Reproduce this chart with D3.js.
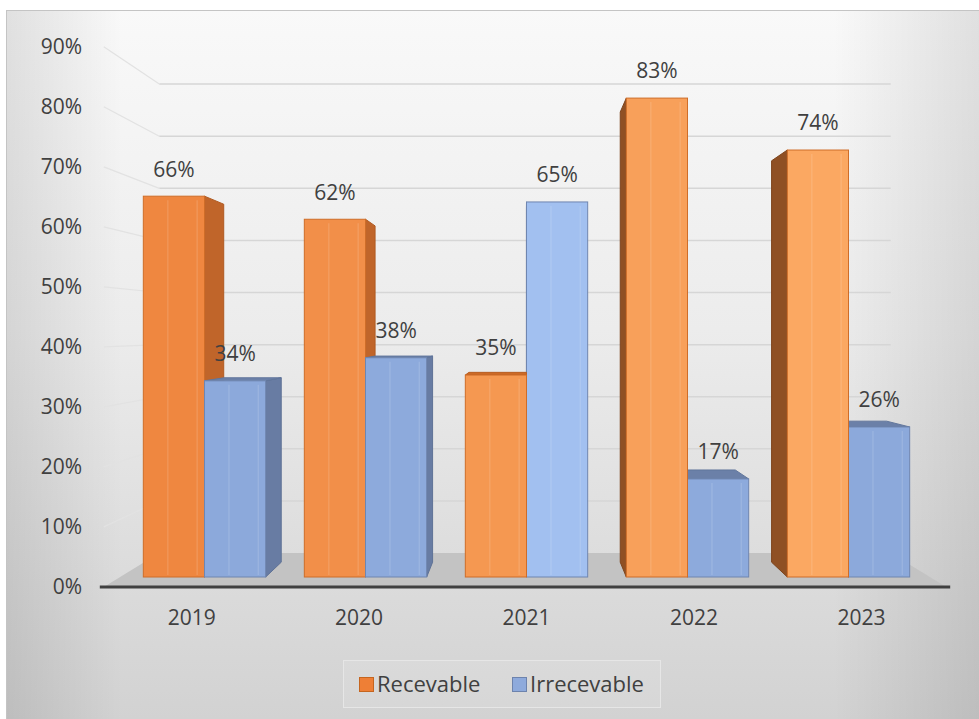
<!DOCTYPE html>
<html><head><meta charset="utf-8">
<script src="https://cdn.jsdelivr.net/npm/d3@7"></script>
<style>html,body{margin:0;padding:0;background:#fff;} svg{display:block;}</style>
</head><body>
<svg id="c" width="979" height="719"></svg>
<script>
const categories = ["2019","2020","2021","2022","2023"];
const seriesNames = ["Recevable","Irrecevable"];
const recevable = [0.66,0.62,0.35,0.83,0.74];
const irrecevable = [0.34,0.38,0.65,0.17,0.26];
const tickValues = [0,0.1,0.2,0.3,0.4,0.5,0.6,0.7,0.8,0.9];
const seriesValues = [recevable, irrecevable];

const svg = d3.select("#c");
const FONT = "'Open Sans', 'Noto Sans', sans-serif";
const cx = 525, hy = 330;
const S_BACK = 0.903, S_BARBACK = 0.94, S_FRONT = 1, S_FLOOR = 1.04;
const wallL = 120, wallR = 930;

const x = d3.scaleBand().domain(categories).range([124, 929]).paddingInner(0.24).paddingOuter(0.12);
const y = d3.scaleLinear().domain([0, 1]).range([577, 0]);
const proj = (X, v, s) => [cx + (X - cx) * s, hy + (y(v) - hy) * s];
const fmt = d3.format(".0%");

const defs = svg.append("defs");
const bg = defs.append("linearGradient").attr("id","bgV").attr("x1",0).attr("y1",0).attr("x2",0).attr("y2",1);
bg.append("stop").attr("offset","0%").attr("stop-color","#f9f9f9");
bg.append("stop").attr("offset","45%").attr("stop-color","#ececec");
bg.append("stop").attr("offset","100%").attr("stop-color","#d2d2d2");
const bh = defs.append("linearGradient").attr("id","bgH").attr("x1",0).attr("y1",0).attr("x2",1).attr("y2",0);
bh.append("stop").attr("offset","0%").attr("stop-color","#000").attr("stop-opacity",0.1);
bh.append("stop").attr("offset","12%").attr("stop-color","#000").attr("stop-opacity",0.0);
bh.append("stop").attr("offset","85%").attr("stop-color","#000").attr("stop-opacity",0.0);
bh.append("stop").attr("offset","100%").attr("stop-color","#000").attr("stop-opacity",0.1);

// chart area
svg.append("rect").attr("x",6).attr("y",10).attr("width",973).attr("height",709).attr("fill","url(#bgV)");
svg.append("rect").attr("x",6).attr("y",10).attr("width",973).attr("height",709).attr("fill","url(#bgH)");
svg.append("rect").attr("x",6.5).attr("y",10.5).attr("width",973).attr("height",709).attr("fill","none").attr("stroke","#c4c4c4");

// back wall gridlines + side wall lines
const gl = svg.append("g");
tickValues.filter(v => v > 0).forEach(v => {
  const a = proj(wallL, v, S_BACK), b = proj(wallR, v, S_BACK);
  gl.append("line").attr("x1",a[0]).attr("y1",a[1]).attr("x2",b[0]).attr("y2",b[1])
    .attr("stroke","#d6d6d6").attr("stroke-width",1.5);
  const c = proj(wallL, v, S_FLOOR);
  gl.append("line").attr("x1",c[0]).attr("y1",c[1]).attr("x2",a[0]).attr("y2",a[1])
    .attr("stroke","#e2e2e2").attr("stroke-width",1.2);
});

// floor
const floorPts = [proj(wallL,0,S_FLOOR), proj(wallR,0,S_FLOOR), proj(wallR,0,S_BACK), proj(wallL,0,S_BACK)];
svg.append("polygon").attr("points", floorPts.map(p=>p.join(",")).join(" ")).attr("fill","#c3c3c3");

// y labels
svg.append("g").selectAll("text").data(tickValues).join("text")
  .attr("x", 82).attr("y", d => proj(wallL, d, S_FLOOR)[1]).attr("dy","0.35em")
  .attr("text-anchor","end").attr("font-family",FONT).attr("font-size",21).attr("fill","#404040")
  .text(d => fmt(d));

// bars
const bars = [];
categories.forEach((c, i) => {
  seriesValues.forEach((vals, k) => {
    const X1 = x(c) + k * x.bandwidth() / 2, X2 = X1 + x.bandwidth() / 2;
    bars.push({c, k, v: vals[i], X1, X2, mid: (X1 + X2) / 2});
  });
});
bars.sort((a, b) => Math.abs(b.mid - cx) - Math.abs(a.mid - cx));

const orangeFront = d3.interpolateRgb("#ef8740", "#fba862");
const blueFront = d3.interpolateRgb("#8ca9db", "#a2c0f0");
const poly = (g, pts, fill, stroke) => g.append("polygon").attr("points", pts.map(p => p.join(",")).join(" "))
  .attr("fill", fill).attr("stroke", stroke || "none").attr("stroke-width", 1).attr("stroke-linejoin","round");

const gb = svg.append("g");
bars.forEach(b => {
  const g = gb.append("g");
  const isO = b.k === 0;
  let front;
  if (isO) front = orangeFront(Math.max(0, Math.min(1, (b.X1 - 143) / 644)));
  else front = blueFront(Math.exp(-Math.pow((b.mid - cx - 30) / 90, 2)));
  const edge = isO ? "#cf6d28" : "#6f86b0";
  if (b.X2 < cx) {
    poly(g, [proj(b.X2,0,S_FRONT), proj(b.X2,b.v,S_FRONT), proj(b.X2,b.v,S_BARBACK), proj(b.X2,0,S_BARBACK)],
      isO ? "#c0652a" : "#687ca3", isO ? "#b05a22" : "#5f7296");
  } else if (b.X1 > cx) {
    poly(g, [proj(b.X1,0,S_FRONT), proj(b.X1,b.v,S_FRONT), proj(b.X1,b.v,S_BARBACK), proj(b.X1,0,S_BARBACK)],
      isO ? "#8f5024" : "#5f7291", isO ? "#7d451e" : "#566886");
  }
  if (y(b.v) > hy) {
    poly(g, [proj(b.X1,b.v,S_FRONT), proj(b.X2,b.v,S_FRONT), proj(b.X2,b.v,S_BARBACK), proj(b.X1,b.v,S_BARBACK)],
      isO ? "#cc6a27" : "#6b80a8", isO ? "#b85e22" : "#61769c");
  }
  g.append("rect").attr("x", b.X1).attr("y", y(b.v)).attr("width", b.X2 - b.X1).attr("height", y(0) - y(b.v))
    .attr("fill", front).attr("stroke", edge).attr("stroke-width", 1);
  const bw = b.X2 - b.X1;
  [0.4, 0.88].forEach(f => {
    g.append("line").attr("x1", b.X1 + bw * f).attr("x2", b.X1 + bw * f)
      .attr("y1", y(b.v) + 4).attr("y2", y(0) - 2)
      .attr("stroke", "#fff").attr("stroke-opacity", 0.12).attr("stroke-width", 1.5);
  });
});

// axis line
svg.append("line").attr("x1", floorPts[0][0] - 4).attr("x2", floorPts[1][0] + 4)
  .attr("y1", floorPts[0][1]).attr("y2", floorPts[0][1]).attr("stroke","#404040").attr("stroke-width",3);

// data labels
svg.append("g").selectAll("text").data(bars).join("text")
  .attr("x", d => d.mid).attr("y", d => y(d.v) - 27).attr("dy","0.35em")
  .attr("text-anchor","middle").attr("font-family",FONT).attr("font-size",21).attr("fill","#404040")
  .text(d => fmt(d.v));

// category labels
svg.append("g").selectAll("text").data(categories).join("text")
  .attr("x", d => proj(x(d) + x.bandwidth()/2, 0, S_FLOOR)[0]).attr("y", 618).attr("dy","0.35em")
  .attr("text-anchor","middle").attr("font-family",FONT).attr("font-size",21).attr("fill","#404040")
  .text(d => d);

// legend
const lg = svg.append("g");
lg.append("rect").attr("x",343.5).attr("y",660.5).attr("width",317).attr("height",47)
  .attr("fill","#fff").attr("fill-opacity",0.1).attr("stroke","#e6e6e6");
const legendX = [359, 512];
const swFill = ["#ee7f36", "#8eaadc"], swStroke = ["#c5651f", "#6d83ad"];
seriesNames.forEach((n, i) => {
  lg.append("rect").attr("x", legendX[i] + 0.5).attr("y", 677.5).attr("width", 14).attr("height", 14)
    .attr("fill", swFill[i]).attr("stroke", swStroke[i]);
  lg.append("text").attr("x", legendX[i] + 18).attr("y", 684).attr("dy","0.35em")
    .attr("font-family",FONT).attr("font-size",22).attr("fill","#404040").text(n);
});
</script>
</body></html>
